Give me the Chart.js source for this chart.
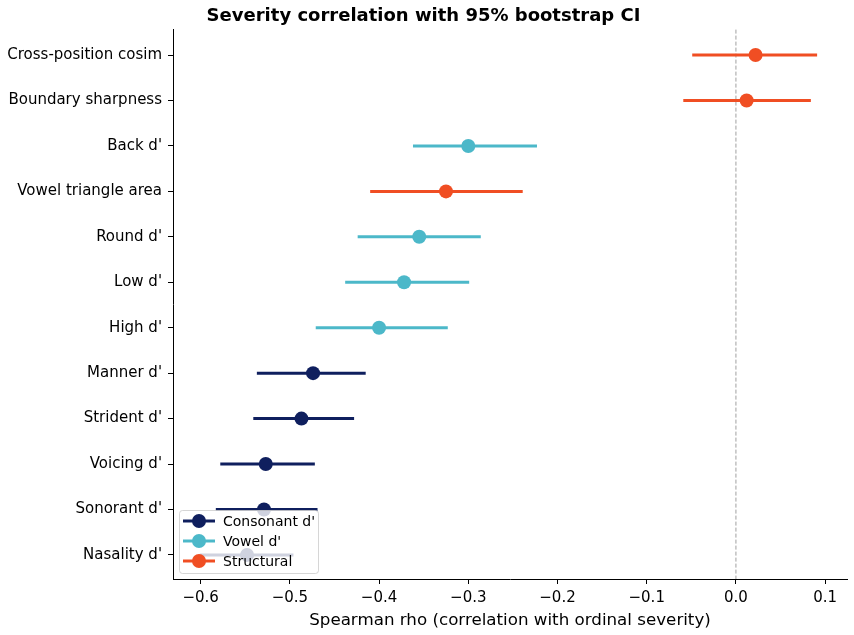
<!DOCTYPE html>
<html>
<head>
<meta charset="utf-8">
<script src="https://cdn.jsdelivr.net/npm/chart.js@4"></script>
<style>
  html, body { margin: 0; padding: 0; background: #fff; }
  #wrap { width: 854px; height: 635px; }
</style>
</head>
<body>
<div id="wrap"><canvas id="chart" width="854" height="635"></canvas></div>
<script>
// Rows listed from bottom to top
const features = ["Nasality d'", "Sonorant d'", "Voicing d'", "Strident d'", "Manner d'", "High d'",
                  "Low d'", "Round d'", "Vowel triangle area", "Back d'", "Boundary sharpness", "Cross-position cosim"];
const groups = ["Consonant d'", "Consonant d'", "Consonant d'", "Consonant d'", "Consonant d'", "Vowel d'",
                "Vowel d'", "Vowel d'", "Structural", "Vowel d'", "Structural", "Structural"];
const rho = [-0.548, -0.529, -0.527, -0.487, -0.474, -0.400, -0.372, -0.355, -0.325, -0.300, 0.012, 0.022];
const ciLow = [-0.601, -0.583, -0.578, -0.541, -0.537, -0.471, -0.438, -0.424, -0.410, -0.362, -0.059, -0.049];
const ciHigh = [-0.496, -0.469, -0.472, -0.428, -0.415, -0.323, -0.299, -0.286, -0.239, -0.223, 0.084, 0.091];
const xTicks = [-0.6, -0.5, -0.4, -0.3, -0.2, -0.1, 0.0, 0.1];

const groupNames = ["Consonant d'", "Vowel d'", "Structural"];
const groupColors = { "Consonant d'": "#0f1f5e", "Vowel d'": "#4cb8c9", "Structural": "#f04e23" };

const font = "'DejaVu Sans', sans-serif";

const datasets = groupNames.map(function(g) {
    const pts = [];
    features.forEach(function(f, i) {
        if (groups[i] === g) pts.push({ x: rho[i], y: i, lo: ciLow[i], hi: ciHigh[i] });
    });
    return {
        label: g,
        data: pts,
        backgroundColor: groupColors[g],
        borderColor: groupColors[g],
        pointRadius: 7,
        pointHoverRadius: 7,
        borderWidth: 0
    };
});

// CI whiskers and the zero line, drawn under the points
const errorBars = {
    id: "errorBars",
    beforeDatasetsDraw: function(chart) {
        const ctx = chart.ctx, xs = chart.scales.x, ys = chart.scales.y, area = chart.chartArea;
        ctx.save();
        const x0 = xs.getPixelForValue(0);
        ctx.strokeStyle = "#a0a0a0";
        ctx.lineWidth = 1;
        ctx.setLineDash([4, 2]);
        ctx.beginPath();
        ctx.moveTo(x0, area.top);
        ctx.lineTo(x0, area.bottom);
        ctx.stroke();
        ctx.setLineDash([]);
        chart.data.datasets.forEach(function(ds) {
            ctx.strokeStyle = ds.borderColor;
            ctx.lineWidth = 3;
            ds.data.forEach(function(p) {
                const y = ys.getPixelForValue(p.y);
                ctx.beginPath();
                ctx.moveTo(xs.getPixelForValue(p.lo), y);
                ctx.lineTo(xs.getPixelForValue(p.hi), y);
                ctx.stroke();
            });
        });
        ctx.restore();
    },
    afterDatasetsDraw: function(chart) {
        // legend box in lower-left corner of the axes
        const ctx = chart.ctx, area = chart.chartArea;
        const bx = area.left + 6, bw = 139, bh = 63, by = area.bottom - 6 - bh;
        ctx.save();
        ctx.fillStyle = "rgba(255,255,255,0.8)";
        ctx.strokeStyle = "rgba(204,204,204,0.8)";
        ctx.lineWidth = 1;
        ctx.beginPath();
        ctx.roundRect(bx + 0.5, by + 0.5, bw, bh, 3);
        ctx.fill();
        ctx.stroke();
        ctx.font = "14px " + font;
        ctx.textBaseline = "middle";
        chart.data.datasets.forEach(function(ds, i) {
            const y = by + 11 + i * 20;
            ctx.strokeStyle = ds.borderColor;
            ctx.lineWidth = 3;
            ctx.beginPath();
            ctx.moveTo(bx + 4, y);
            ctx.lineTo(bx + 36, y);
            ctx.stroke();
            ctx.fillStyle = ds.backgroundColor;
            ctx.beginPath();
            ctx.arc(bx + 20, y, 7, 0, Math.PI * 2);
            ctx.fill();
            ctx.fillStyle = "#000";
            ctx.fillText(ds.label, bx + 44, y + 1);
        });
        ctx.restore();
    }
};

new Chart(document.getElementById("chart"), {
    type: "scatter",
    data: { datasets: datasets },
    plugins: [errorBars],
    options: {
        responsive: false,
        animation: false,
        events: [],
        layout: { padding: { left: 0, right: 7, top: 0, bottom: 0 } },
        plugins: {
            legend: { display: false },
            tooltip: { enabled: false },
            title: {
                display: true,
                text: "Severity correlation with 95% bootstrap CI",
                color: "#000",
                font: { family: font, size: 18, weight: "bold" },
                padding: { top: 6, bottom: 2 }
            }
        },
        scales: {
            x: {
                type: "linear",
                min: -0.631,
                max: 0.1245,
                afterBuildTicks: function(axis) {
                    axis.ticks = xTicks.map(function(v) { return { value: v }; });
                },
                afterFit: function(axis) { axis.height = 56; },
                ticks: {
                    color: "#000",
                    font: { family: font, size: 15 },
                    padding: 5,
                    maxRotation: 0,
                    callback: function(v) { return (v < 0 ? "\u2212" : "") + Math.abs(v).toFixed(1); }
                },
                grid: { drawOnChartArea: false, drawTicks: true, tickLength: 5, color: "#000" },
                border: { display: true, color: "#000", width: 1 },
                title: {
                    display: true,
                    text: "Spearman rho (correlation with ordinal severity)",
                    color: "#000",
                    font: { family: font, size: 16.7 },
                    padding: { top: 0, bottom: 4 }
                }
            },
            y: {
                type: "linear",
                min: -0.53,
                max: 11.56,
                afterBuildTicks: function(axis) {
                    axis.ticks = features.map(function(f, i) { return { value: i }; });
                },
                afterFit: function(axis) { axis.width = 173; },
                ticks: {
                    color: "#000",
                    font: { family: font, size: 15 },
                    padding: 6,
                    callback: function(v) { return features[v]; }
                },
                grid: { drawOnChartArea: false, drawTicks: true, tickLength: 5, color: "#000" },
                border: { display: true, color: "#000", width: 1 }
            }
        }
    }
});
</script>
</body>
</html>
